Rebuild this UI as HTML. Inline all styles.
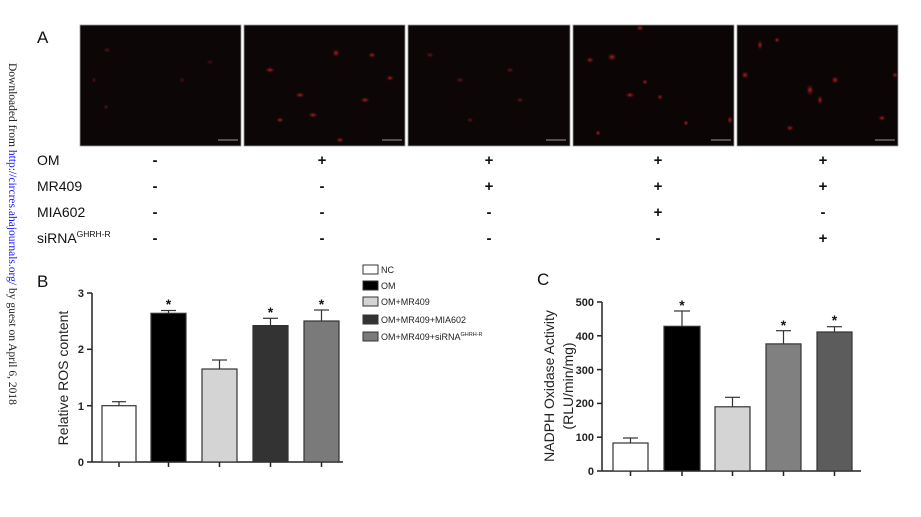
<!DOCTYPE html>
<html><head><meta charset="utf-8"><style>
html,body{margin:0;padding:0;background:#fff;width:921px;height:517px;overflow:hidden}
svg{display:block}
text{font-family:"Liberation Sans",Arial,sans-serif}
</style></head><body>
<svg width="921" height="517" viewBox="0 0 921 517" xmlns="http://www.w3.org/2000/svg">
<defs>
<radialGradient id="cell"><stop offset="0" stop-color="#c0262a" stop-opacity="0.9"/><stop offset="1" stop-color="#5a0c10" stop-opacity="0"/></radialGradient>
</defs>
<text transform="translate(9,63) rotate(90)" font-size="11.5" fill="#222" style="font-family:'Liberation Serif',serif">Downloaded from <tspan fill="#1a1aff">http://circres.ahajournals.org/</tspan> by guest on April 6, 2018</text>

<text x="37" y="43" font-size="17" fill="#111">A</text>
<g stroke="#999" stroke-width="0.8">
<rect x="80" y="25" width="161" height="121" fill="#0c0606"/>
<rect x="244" y="25" width="161" height="121" fill="#0d0606"/>
<rect x="408" y="25" width="162" height="121" fill="#0c0606"/>
<rect x="573" y="25" width="161" height="121" fill="#0c0505"/>
<rect x="737" y="25" width="161" height="121" fill="#0c0505"/>
</g>
<g fill="url(#cell)">
<ellipse cx="107" cy="50" rx="4" ry="3" opacity="0.5"/><ellipse cx="94" cy="80" rx="3" ry="3" opacity="0.5"/><ellipse cx="106" cy="107" rx="3" ry="3" opacity="0.5"/><ellipse cx="182" cy="80" rx="4" ry="3" opacity="0.4"/><ellipse cx="210" cy="62" rx="4" ry="3" opacity="0.4"/>
<ellipse cx="270" cy="70" rx="5" ry="3"/><ellipse cx="300" cy="95" rx="5" ry="3"/><ellipse cx="313" cy="115" rx="5" ry="3"/><ellipse cx="336" cy="53" rx="4" ry="4"/><ellipse cx="365" cy="100" rx="5" ry="3"/><ellipse cx="390" cy="78" rx="4" ry="3"/><ellipse cx="280" cy="120" rx="4" ry="3"/><ellipse cx="372" cy="55" rx="4" ry="3"/><ellipse cx="340" cy="140" rx="4" ry="3"/>
<ellipse cx="430" cy="55" rx="4" ry="3" opacity="0.6"/><ellipse cx="460" cy="80" rx="4" ry="3" opacity="0.6"/><ellipse cx="510" cy="70" rx="4" ry="3" opacity="0.6"/><ellipse cx="520" cy="100" rx="4" ry="3" opacity="0.6"/><ellipse cx="470" cy="120" rx="4" ry="3" opacity="0.5"/>
<ellipse cx="612" cy="57" rx="5" ry="4"/><ellipse cx="645" cy="82" rx="3" ry="3"/><ellipse cx="660" cy="97" rx="3" ry="3"/><ellipse cx="630" cy="95" rx="5" ry="3"/><ellipse cx="686" cy="123" rx="3" ry="3"/><ellipse cx="598" cy="133" rx="3" ry="3"/><ellipse cx="590" cy="60" rx="4" ry="3"/><ellipse cx="640" cy="28" rx="4" ry="3"/><ellipse cx="730" cy="120" rx="3" ry="4"/>
<ellipse cx="760" cy="45" rx="3" ry="5"/><ellipse cx="745" cy="75" rx="4" ry="4"/><ellipse cx="810" cy="90" rx="4" ry="6"/><ellipse cx="835" cy="80" rx="4" ry="4"/><ellipse cx="820" cy="100" rx="3" ry="5"/><ellipse cx="882" cy="118" rx="4" ry="3"/><ellipse cx="790" cy="128" rx="4" ry="3"/><ellipse cx="895" cy="75" rx="3" ry="3"/><ellipse cx="777" cy="40" rx="3" ry="3"/>
</g>
<g stroke="#ccc" stroke-width="0.8">
<line x1="218" y1="140" x2="238" y2="140"/><line x1="382" y1="140" x2="402" y2="140"/><line x1="546" y1="140" x2="566" y2="140"/><line x1="711" y1="140" x2="731" y2="140"/><line x1="875" y1="140" x2="895" y2="140"/>
</g>
<g font-size="14" fill="#111">
<text x="37" y="165">OM</text>
<text x="37" y="191">MR409</text>
<text x="37" y="217">MIA602</text>
<text x="37" y="243">siRNA<tspan font-size="8.5" dy="-6">GHRH-R</tspan></text>
</g>
<g font-size="15" font-weight="bold" fill="#111" text-anchor="middle">
<text x="155" y="165">-</text><text x="322" y="165">+</text><text x="489" y="165">+</text><text x="658" y="165">+</text><text x="823" y="165">+</text>
<text x="155" y="191">-</text><text x="322" y="191">-</text><text x="489" y="191">+</text><text x="658" y="191">+</text><text x="823" y="191">+</text>
<text x="155" y="217">-</text><text x="322" y="217">-</text><text x="489" y="217">-</text><text x="658" y="217">+</text><text x="823" y="217">-</text>
<text x="155" y="243">-</text><text x="322" y="243">-</text><text x="489" y="243">-</text><text x="658" y="243">-</text><text x="823" y="243">+</text>
</g>

<text x="37" y="287" font-size="17" fill="#111">B</text>
<text transform="translate(68,378) rotate(-90)" font-size="14" fill="#222" text-anchor="middle">Relative ROS content</text>
<g stroke="#222" stroke-width="1.5" fill="none">
<line x1="92" y1="293" x2="92" y2="462"/>
<line x1="92" y1="462" x2="343" y2="462"/>
<line x1="87" y1="293" x2="92" y2="293"/><line x1="87" y1="349.3" x2="92" y2="349.3"/><line x1="87" y1="405.7" x2="92" y2="405.7"/><line x1="87" y1="462" x2="92" y2="462"/>
<line x1="119" y1="462" x2="119" y2="467"/><line x1="168.5" y1="462" x2="168.5" y2="467"/><line x1="219.5" y1="462" x2="219.5" y2="467"/><line x1="270.5" y1="462" x2="270.5" y2="467"/><line x1="321.5" y1="462" x2="321.5" y2="467"/>
</g>
<g font-size="11" font-weight="bold" fill="#222" text-anchor="end">
<text x="84" y="297">3</text><text x="84" y="353">2</text><text x="84" y="410">1</text><text x="84" y="466">0</text>
</g>
<g stroke="#333" stroke-width="1.2">
<line x1="119" y1="405.7" x2="119" y2="401.7"/><line x1="112" y1="401.7" x2="126" y2="401.7"/>
<line x1="168.5" y1="313.3" x2="168.5" y2="310.5"/><line x1="161" y1="310.5" x2="176" y2="310.5"/>
<line x1="219.5" y1="369" x2="219.5" y2="360"/><line x1="212" y1="360" x2="227" y2="360"/>
<line x1="270.5" y1="325.6" x2="270.5" y2="318.3"/><line x1="263" y1="318.3" x2="278" y2="318.3"/>
<line x1="321.5" y1="321" x2="321.5" y2="310"/><line x1="314" y1="310" x2="329" y2="310"/>
<rect x="102" y="405.7" width="34" height="56.3" fill="#fff"/>
<rect x="151" y="313.3" width="35" height="148.7" fill="#000"/>
<rect x="202" y="369" width="35" height="93" fill="#d4d4d4"/>
<rect x="253" y="325.6" width="35" height="136.4" fill="#333"/>
<rect x="304" y="321" width="35" height="141" fill="#7a7a7a"/>
</g>
<g font-size="14" font-weight="bold" fill="#111" text-anchor="middle">
<text x="168.5" y="309">*</text><text x="270.5" y="317">*</text><text x="321.5" y="309">*</text>
</g>
<g stroke="#333" stroke-width="1">
<rect x="363" y="265" width="15" height="9" fill="#fff"/>
<rect x="363" y="281" width="15" height="9" fill="#000"/>
<rect x="363" y="297" width="15" height="9" fill="#d4d4d4"/>
<rect x="363" y="315" width="15" height="9" fill="#333"/>
<rect x="363" y="332" width="15" height="9" fill="#7a7a7a"/>
</g>
<g font-size="9" fill="#222">
<text x="381" y="273">NC</text>
<text x="381" y="289">OM</text>
<text x="381" y="305">OM+MR409</text>
<text x="381" y="323">OM+MR409+MIA602</text>
<text x="381" y="340">OM+MR409+siRNA<tspan font-size="5.5" dy="-4">GHRH-R</tspan></text>
</g>

<text x="537" y="285" font-size="17" fill="#111">C</text>
<text transform="translate(554,386) rotate(-90)" font-size="14" fill="#222" text-anchor="middle">NADPH Oxidase Activity</text>
<text transform="translate(573,386) rotate(-90)" font-size="14" fill="#222" text-anchor="middle">(RLU/min/mg)</text>
<g stroke="#222" stroke-width="1.5" fill="none">
<line x1="602" y1="302" x2="602" y2="471"/>
<line x1="602" y1="471" x2="861" y2="471"/>
<line x1="597" y1="302" x2="602" y2="302"/><line x1="597" y1="335.8" x2="602" y2="335.8"/><line x1="597" y1="369.6" x2="602" y2="369.6"/><line x1="597" y1="403.4" x2="602" y2="403.4"/><line x1="597" y1="437.2" x2="602" y2="437.2"/><line x1="597" y1="471" x2="602" y2="471"/>
<line x1="630.5" y1="471" x2="630.5" y2="476"/><line x1="682" y1="471" x2="682" y2="476"/><line x1="732.5" y1="471" x2="732.5" y2="476"/><line x1="783.5" y1="471" x2="783.5" y2="476"/><line x1="834.5" y1="471" x2="834.5" y2="476"/>
</g>
<g font-size="11" font-weight="bold" fill="#222" text-anchor="end">
<text x="594" y="306">500</text><text x="594" y="340">400</text><text x="594" y="374">300</text><text x="594" y="407">200</text><text x="594" y="441">100</text><text x="594" y="475">0</text>
</g>
<g stroke="#333" stroke-width="1.2">
<line x1="630.5" y1="443" x2="630.5" y2="438"/><line x1="623" y1="438" x2="638" y2="438"/>
<line x1="682" y1="326.3" x2="682" y2="311"/><line x1="674" y1="311" x2="690" y2="311"/>
<line x1="732.5" y1="406.8" x2="732.5" y2="397.3"/><line x1="725" y1="397.3" x2="740" y2="397.3"/>
<line x1="783.5" y1="343.9" x2="783.5" y2="330.7"/><line x1="776" y1="330.7" x2="791" y2="330.7"/>
<line x1="834.5" y1="332" x2="834.5" y2="326.7"/><line x1="827" y1="326.7" x2="842" y2="326.7"/>
<rect x="613" y="443" width="35" height="28" fill="#fff"/>
<rect x="664" y="326.3" width="36" height="144.7" fill="#000"/>
<rect x="715" y="406.8" width="35" height="64.2" fill="#d4d4d4"/>
<rect x="766" y="343.9" width="35" height="127.1" fill="#808080"/>
<rect x="817" y="332" width="35" height="139" fill="#5c5c5c"/>
</g>
<g font-size="14" font-weight="bold" fill="#111" text-anchor="middle">
<text x="682" y="310">*</text><text x="783.5" y="330">*</text><text x="834.5" y="325">*</text>
</g>
</svg>
</body></html>
